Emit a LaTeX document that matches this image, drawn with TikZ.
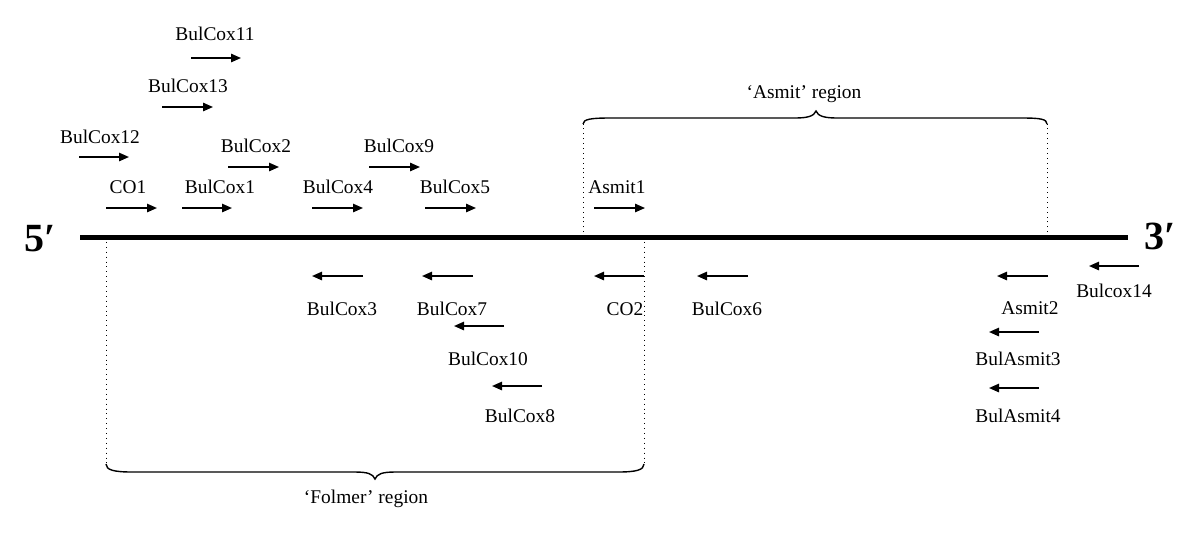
\documentclass[tikz,border=0pt]{standalone}
\usepackage{fontspec}
\setmainfont{Liberation Serif}
\usetikzlibrary{arrows.meta}
\tikzset{
  lbl/.style={font=\fontsize{9.7}{11}\selectfont, inner sep=0pt, anchor=base},
  endlbl/.style={font=\fontsize{20}{24}\selectfont\bfseries, inner sep=0pt, anchor=base},
  primer/.style={-{Triangle[length=5pt,width=4.2pt]}, line width=0.8pt},
  dnaline/.style={line width=2.5pt},
  dotline/.style={dotted, line width=0.45pt},
  bracepath/.style={line width=0.7pt}
}
\begin{document}
\begin{tikzpicture}[x=0.5pt,y=-0.5pt]
\useasboundingbox (0,0) rectangle (1200,538);
% main strand
\coordinate (L) at (80,237);
\coordinate (R) at (1128,237);
\draw[dnaline] (L) -- (R);
\node[endlbl] (five) at (40,251) {5′};
\node[endlbl] (three) at (1160,249) {3′};
% region boundaries
\coordinate (fl0) at (106,237); \coordinate (fl1) at (106,464);
\coordinate (fr0) at (644,237); \coordinate (fr1) at (644,464);
\coordinate (al0) at (583,237); \coordinate (al1) at (583,124);
\coordinate (ar0) at (1047,237); \coordinate (ar1) at (1047,124);
\draw[dotline] (fl0) -- (fl1);
\draw[dotline] (fr0) -- (fr1);
\draw[dotline] (al0) -- (al1);
\draw[dotline] (ar0) -- (ar1);
% Asmit brace
\draw[bracepath] (al1) .. controls (583,119) and (592,118) .. (610,118) -- (795,118)
  .. controls (808,118) and (814,116) .. (816,111)
  .. controls (818,116) and (824,118) .. (837,118) -- (1022,118)
  .. controls (1040,118) and (1047,119) .. (ar1);
\node[lbl] (asmitreg) at (804,98) {‘Asmit’ region};
% Folmer brace
\draw[bracepath] (fl1) .. controls (106,470) and (114,472) .. (132,472) -- (355,472)
  .. controls (368,472) and (373,474) .. (375,479)
  .. controls (377,474) and (382,472) .. (395,472) -- (618,472)
  .. controls (636,472) and (644,470) .. (fr1);
\node[lbl] (folmerreg) at (366,503) {‘Folmer’ region};
% forward primers: name / x start / y / x end
\foreach \n/\xs/\y/\xe in {c11/191/58/241, c13/162/107/213, c12/79/157/129,
  c2/228/167/279, c9/369/167/420, co1/106/208/157, c1/182/208/232,
  c4/312/208/363, c5/425/208/476, as1/594/208/645}
  {\coordinate (s\n) at (\xs,\y); \coordinate (e\n) at (\xe,\y);
   \draw[primer] (s\n) -- (e\n);}
% reverse primers
\foreach \n/\xs/\y/\xe in {c3/363/276/312, c7/473/276/422, co2/644/276/594,
  c6/748/276/697, as2/1048/276/997, c14/1139/266/1089, c10/504/326/454,
  c8/542/386/492, ba3/1039/332/989, ba4/1039/388/989}
  {\coordinate (s\n) at (\xs,\y); \coordinate (e\n) at (\xe,\y);
   \draw[primer] (s\n) -- (e\n);}
% labels
\node[lbl] (t11) at (215,40) {BulCox11};
\node[lbl] (t13) at (188,92) {BulCox13};
\node[lbl] (t12) at (100,143) {BulCox12};
\node[lbl] (t2) at (256,152) {BulCox2};
\node[lbl] (t9) at (399,152) {BulCox9};
\node[lbl] (tco1) at (128,193) {CO1};
\node[lbl] (t1) at (220,193) {BulCox1};
\node[lbl] (t4) at (338,193) {BulCox4};
\node[lbl] (t5) at (455,193) {BulCox5};
\node[lbl] (tas1) at (617,193) {Asmit1};
\node[lbl] (t3) at (342,315) {BulCox3};
\node[lbl] (t7) at (452,315) {BulCox7};
\node[lbl] (tco2) at (625,315) {CO2};
\node[lbl] (t6) at (727,315) {BulCox6};
\node[lbl] (tas2) at (1030,314) {Asmit2};
\node[lbl] (t14) at (1114,297) {Bulcox14};
\node[lbl] (t10) at (488,365) {BulCox10};
\node[lbl] (t8) at (520,422) {BulCox8};
\node[lbl] (tba3) at (1018,365) {BulAsmit3};
\node[lbl] (tba4) at (1018,422) {BulAsmit4};
\end{tikzpicture}
\end{document}
